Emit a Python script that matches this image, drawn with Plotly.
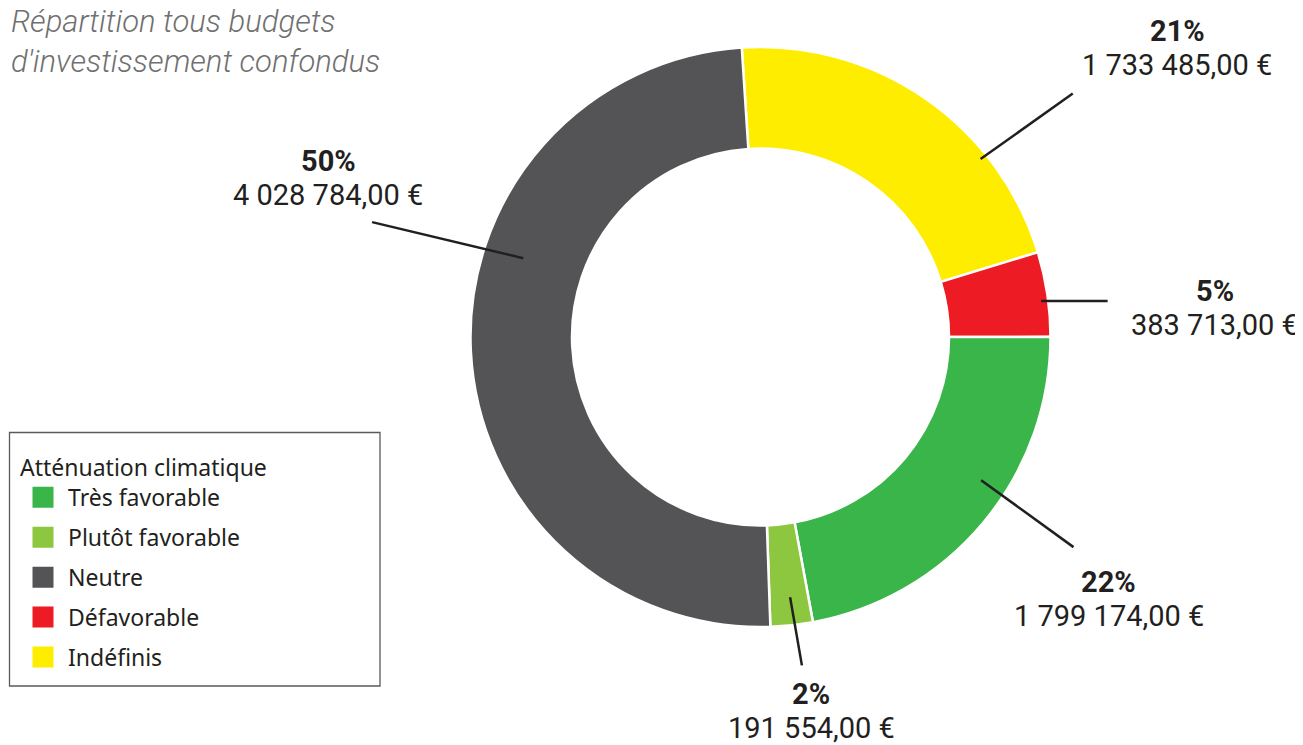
import math
import plotly.graph_objects as go

# ---------------- data ----------------
categories = ["Très favorable", "Plutôt favorable", "Neutre", "Défavorable", "Indéfinis"]
amounts = [1799174.00, 191554.00, 4028784.00, 383713.00, 1733485.00]
colors = ["#39B54A", "#8DC63F", "#545456", "#ED1C24", "#FFED00"]
ring_order = ["Indéfinis", "Défavorable", "Très favorable", "Plutôt favorable", "Neutre"]

legend_title = "Atténuation climatique"
chart_title = "Répartition tous budgets<br>d'investissement confondus"

# ---------------- style / layout ----------------
VW, VH = 1303, 745          # browser window
OX, OY = 8, 8               # page body margin
FW, FH = VW - OX, VH - OY   # figure size


def px(x):
    return (x - OX) / FW


def py(y):
    return 1 - (y - OY) / FH


ROTATION = -3.7
HOLE = 0.65
dom_x = [px(470), px(1051)]
dom_y = [py(627), py(47)]

# leader-line style per ring slice: angle offsets from slice middle (start, end), radii (px)
lead_off0 = {"Indéfinis": 16.4, "Défavorable": 1.2, "Très favorable": -6.8,
             "Plutôt favorable": -0.3, "Neutre": 21.2}
lead_off1 = {"Indéfinis": 17.4, "Défavorable": 2.6, "Très favorable": -5.9,
             "Plutôt favorable": -1.0, "Neutre": 19.3}
lead_r0 = {"Indéfinis": 283, "Défavorable": 283, "Très favorable": 263,
           "Plutôt favorable": 262, "Neutre": 250}
lead_r1 = {"Indéfinis": 396, "Défavorable": 349, "Très favorable": 377,
           "Plutôt favorable": 331, "Neutre": 405}
# label block centre shift from line end (px, screen coords)
label_shift = {"Indéfinis": (104.5, -45), "Défavorable": (107, 6.5),
               "Très favorable": (35, 52), "Plutôt favorable": (9.5, 46),
               "Neutre": (-44, -44.5)}
LINE_GAP = 17

TEXT_COLOR = "#231F20"
LABEL_FONT = "Roboto, sans-serif"
LABEL_SIZE = 29

val = dict(zip(categories, amounts))
col = dict(zip(categories, colors))
total = sum(amounts)


def fmt_eur(v):
    s = f"{v:,.2f}"
    return s.replace(",", " ").replace(".", ",") + " €"


fig = go.Figure()

fig.add_trace(go.Pie(
    labels=ring_order,
    values=[val[c] for c in ring_order],
    marker=dict(colors=[col[c] for c in ring_order], line=dict(color="white", width=2.5)),
    hole=HOLE,
    sort=False,
    direction="clockwise",
    rotation=ROTATION,
    textinfo="none",
    domain=dict(x=dom_x, y=dom_y),
    showlegend=False,
    hovertemplate="%{label}<br>%{value:,.2f} €<br>%{percent}<extra></extra>",
))

# legend entries (order as in the reference legend)
for c in categories:
    fig.add_trace(go.Scatter(
        x=[None], y=[None], mode="markers", name=c, legendgroup=c,
        marker=dict(symbol="square", size=16, color=col[c], line=dict(color=col[c], width=5)),
        hoverinfo="skip",
    ))

# pie geometry in screen pixels
cx = (dom_x[0] + dom_x[1]) / 2 * FW + OX
cy = (1 - (dom_y[0] + dom_y[1]) / 2) * FH + OY


def polar(r, deg):
    t = math.radians(deg)
    return cx + r * math.sin(t), cy - r * math.cos(t)


shapes = []
annotations = []
start = ROTATION
for c in ring_order:
    span = val[c] / total * 360
    mid = start + span / 2
    start += span
    x0, y0 = polar(lead_r0[c], mid + lead_off0[c])
    x1, y1 = polar(lead_r1[c], mid + lead_off1[c])
    shapes.append(dict(type="line", xref="paper", yref="paper",
                       x0=px(x0), y0=py(y0), x1=px(x1), y1=py(y1),
                       line=dict(color=TEXT_COLOR, width=2.5)))
    pct = round(val[c] / total * 100)
    dx, dy = label_shift[c]
    for txt, off in ((f"<b>{pct}%</b>", -LINE_GAP), (fmt_eur(val[c]), LINE_GAP)):
        annotations.append(dict(
            xref="paper", yref="paper", x=px(x1), y=py(y1),
            xshift=dx, yshift=-(dy + off), xanchor="center", yanchor="middle",
            text=txt, showarrow=False, align="center",
            font=dict(family=LABEL_FONT, size=LABEL_SIZE, color=TEXT_COLOR),
        ))

# title
annotations.append(dict(
    xref="paper", yref="paper", x=px(9), y=1, xanchor="left", yanchor="top",
    yshift=7, text=chart_title, showarrow=False, align="left",
    font=dict(family="Roboto, sans-serif", size=31, color="#707070",
              style="italic", weight=300),
))

# legend frame
shapes.append(dict(type="rect", xref="paper", yref="paper",
                   x0=px(9.5), x1=px(380), y0=py(686), y1=py(432.5),
                   line=dict(color="#5A5A5A", width=1.3), fillcolor="rgba(0,0,0,0)"))

fig.update_layout(
    width=FW, height=FH,
    margin=dict(l=0, r=0, t=0, b=0),
    paper_bgcolor="white", plot_bgcolor="white",
    xaxis=dict(visible=False), yaxis=dict(visible=False),
    shapes=shapes, annotations=annotations,
    legend=dict(
        x=px(18), y=py(446), xanchor="left", yanchor="top",
        bgcolor="rgba(0,0,0,0)", borderwidth=0,
        title=dict(text=legend_title, font=dict(family="Noto Sans", size=23, color=TEXT_COLOR)),
        font=dict(family="Noto Sans", size=23, color=TEXT_COLOR),
        traceorder="grouped", tracegroupgap=7, itemwidth=40,
    ),
    showlegend=True,
)

fig.write_html("out.html")
